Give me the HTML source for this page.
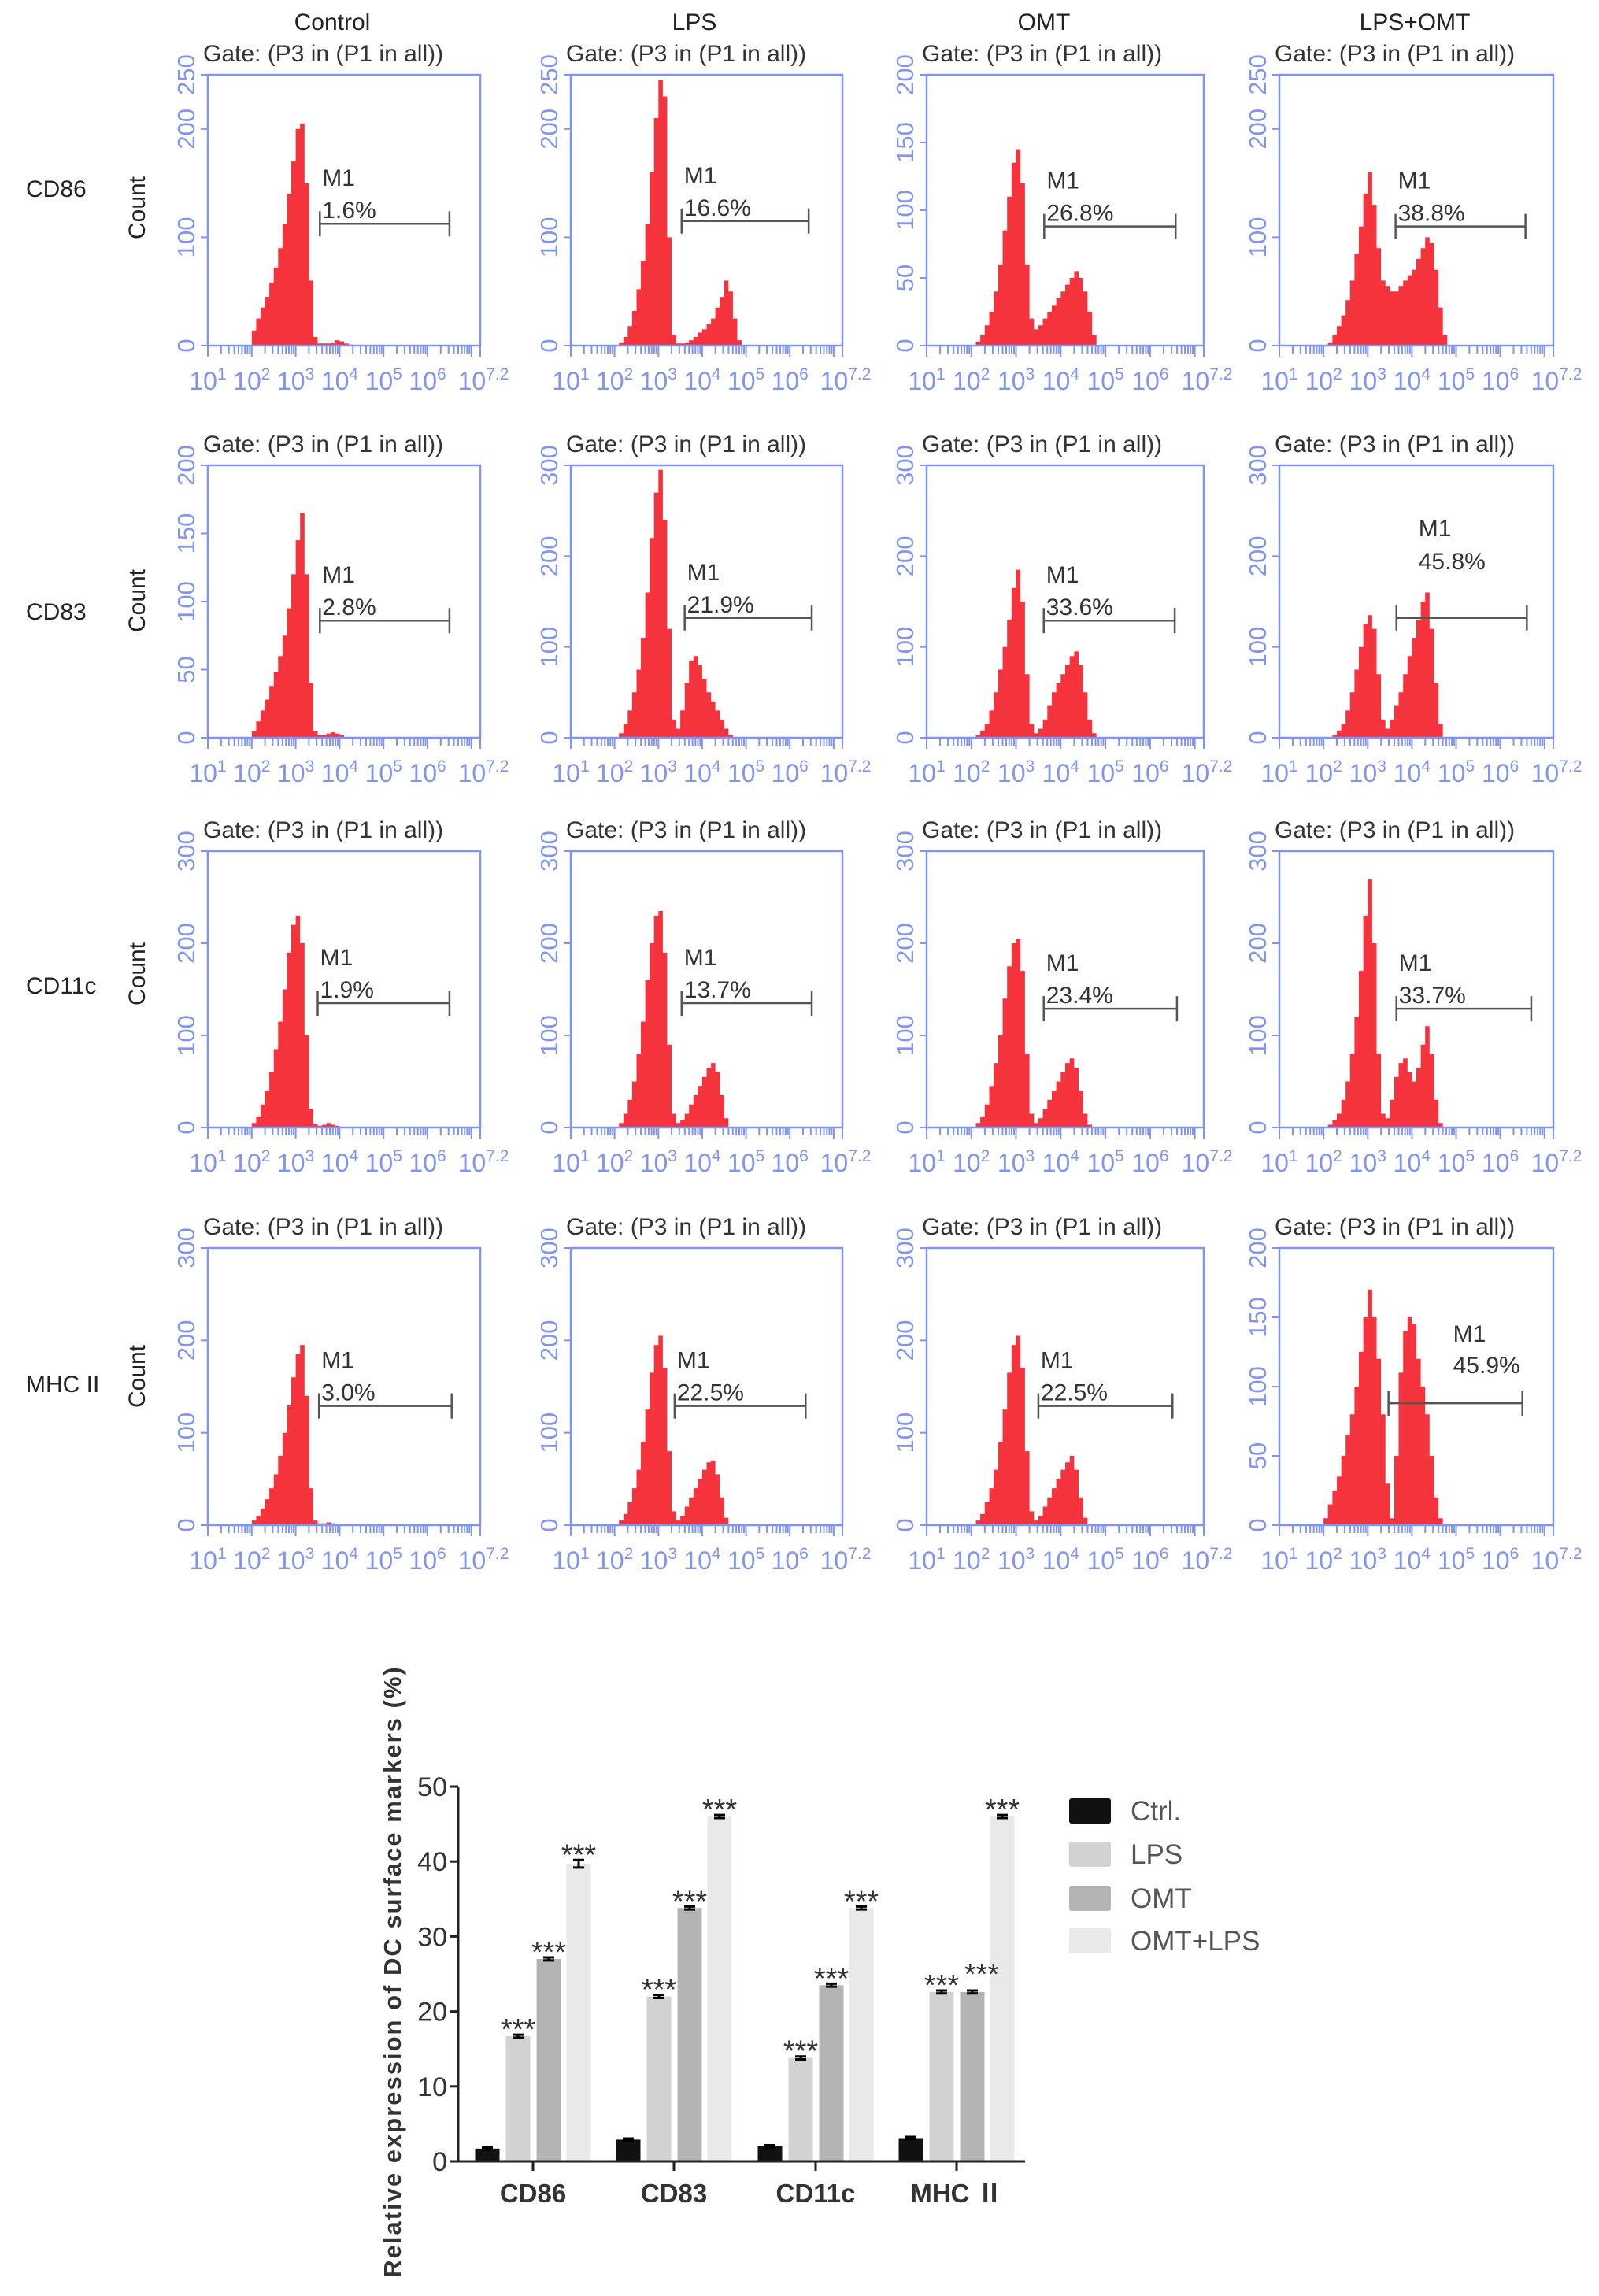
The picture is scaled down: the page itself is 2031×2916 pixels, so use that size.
<!DOCTYPE html>
<html><head><meta charset="utf-8"><style>
html,body{margin:0;padding:0;background:#fff;}
svg{display:block;font-family:"Liberation Sans",Arial,sans-serif;}
</style></head><body>
<svg id="fig" width="2031" height="2916" viewBox="0 0 2031 2916" xmlns="http://www.w3.org/2000/svg"></svg>
<script>
// ===== Histogram data =====
const colTitles = ["Control","LPS","OMT","LPS+OMT"];
const rowTitles = ["CD86","CD83","CD11c","MHC II"];
const yMaxes = [[250,250,200,250],[200,300,300,300],[300,300,300,300],[300,300,300,200]];
const pctLabels = [["1.6%","16.6%","26.8%","38.8%"],["2.8%","21.9%","33.6%","45.8%"],["1.9%","13.7%","23.4%","33.7%"],["3.0%","22.5%","22.5%","45.9%"]];
// counts per bin; bin i covers log10 2.0+0.1*i .. 2.1+0.1*i
const h_r1c1 = [14,25,35,45,58,72,90,112,140,170,200,205,150,60,8,2,2,2,3,5,4,2,1];
const h_r1c2 = [0,3,8,18,32,52,78,112,160,210,245,230,100,10,2,2,3,5,8,12,15,20,25,35,45,60,50,25,5];
const h_r1c3 = [0,3,8,15,25,40,60,85,110,135,145,120,60,20,12,15,20,25,30,35,40,45,50,55,50,40,25,8];
const h_r1c4 = [0,3,10,18,28,42,60,85,110,140,160,130,90,60,55,50,50,55,60,65,70,80,90,100,95,70,35,10];
const h_r2c1 = [5,12,20,28,38,48,60,75,95,120,145,165,120,40,5,2,2,3,4,3,2];
const h_r2c2 = [0,5,15,30,50,75,110,160,220,270,295,240,120,20,10,30,60,85,90,80,65,50,40,30,20,10,3];
const h_r2c3 = [0,3,8,15,30,50,75,100,130,165,185,150,70,15,5,10,20,35,50,60,70,80,90,95,80,50,20,5];
const h_r2c4 = [0,0,3,8,15,30,50,75,100,125,135,120,70,20,10,20,35,50,70,90,110,130,150,160,120,60,15];
const h_r3c1 = [5,12,25,40,60,85,115,150,190,220,230,200,100,20,4,2,3,5,3,2];
const h_r3c2 = [0,5,15,30,50,80,115,160,200,230,235,190,90,15,5,8,15,25,35,45,55,65,70,60,35,10];
const h_r3c3 = [0,5,12,25,45,70,100,140,175,200,205,170,80,15,5,10,20,30,40,50,60,70,75,65,40,15,3];
const h_r3c4 = [0,3,8,15,30,50,80,120,170,230,270,200,80,15,10,30,55,70,75,60,50,65,90,110,80,30,5];
const h_r4c1 = [5,10,18,28,40,55,75,100,130,160,185,195,140,40,5,2,2,3,2];
const h_r4c2 = [0,5,12,25,40,60,90,125,165,195,205,170,80,15,5,10,20,30,40,50,60,68,70,55,30,8];
const h_r4c3 = [0,5,12,25,40,60,90,125,165,195,205,170,80,15,5,10,20,30,40,50,60,68,75,60,30,8];
const h_r4c4 = [5,15,25,35,50,65,80,100,125,150,170,150,120,80,30,5,50,110,140,150,145,120,100,80,50,20,5];
const histData = [[h_r1c1,h_r1c2,h_r1c3,h_r1c4],[h_r2c1,h_r2c2,h_r2c3,h_r2c4],[h_r3c1,h_r3c2,h_r3c3,h_r3c4],[h_r4c1,h_r4c2,h_r4c3,h_r4c4]];
const gateStart = [[3.55,3.53,3.63,3.63],[3.55,3.6,3.62,3.65],[3.5,3.53,3.62,3.65],[3.53,3.37,3.5,3.47]];
const gateEnd = [[6.5,6.43,6.57,6.57],[6.5,6.5,6.55,6.6],[6.5,6.5,6.6,6.7],[6.55,6.36,6.5,6.5]];
const gateFrac = [[0.45,0.46,0.44,0.44],[0.43,0.44,0.43,0.44],[0.45,0.45,0.43,0.43],[0.43,0.43,0.43,0.44]];
const xTickExp = ["1","2","3","4","5","6","7.2"];
const xTickLog = [1,2,3,4,5,6,7.2];

// ===== Bar chart data =====
const barCats = ["CD86","CD83","CD11c","MHC \u2161"];
const seriesNames = ["Ctrl.","LPS","OMT","OMT+LPS"];
const ctrlVals = [1.7,2.9,2.0,3.1];
const lpsVals = [16.7,22.0,13.8,22.6];
const omtVals = [27.0,33.8,23.5,22.6];
const omtLpsVals = [39.7,46.0,33.8,46.0];
const errVals = [[0.15,0.15,0.15,0.15],[0.2,0.2,0.2,0.2],[0.2,0.2,0.2,0.2],[0.5,0.2,0.2,0.2]];
const barTicks = [0,10,20,30,40,50];

const NS="http://www.w3.org/2000/svg";
const svg=document.getElementById('fig');
function el(tag,attrs,parent,text){const e=document.createElementNS(NS,tag);for(const k in attrs)e.setAttribute(k,attrs[k]);if(text!==undefined)e.textContent=text;(parent||svg).appendChild(e);return e;}

const BLUE="#8094f2", RED="#f5333c";
const colLeft=[264,725,1177,1625];
const colRight=[610,1070,1529,1973];
const rowTop=[95,591,1081,1585];
const rowZero=[439,937,1432,1937];
const colTitleX=[422,882,1326,1797];
const rowLabelY=[240,777,1252,1758];
const countY=[264,763,1237,1748];

colTitles.forEach((t,c)=>{
  const e=el('text',{x:colTitleX[c],y:38,'text-anchor':'middle','font-size':30,fill:'#222'},svg,t);
  
  
});
rowTitles.forEach((t,r)=>{
  const e=el('text',{x:33,y:rowLabelY[r]+10,'font-size':30,fill:'#222'},svg,t);
  
  
  const cnt=el('text',{x:0,y:0,'text-anchor':'middle','font-size':30,fill:'#222',transform:`translate(184,${countY[r]}) rotate(-90)`},svg,'Count');
  
  
});

for(let r=0;r<4;r++){for(let c=0;c<4;c++){
  const L=colLeft[c],R=colRight[c],T=rowTop[r],Z=rowZero[r],W=R-L,H=Z-T,ym=yMaxes[r][c];
  const g=el('g',{});
  
  
  const xs=v=>L+(v-1)/6.2*W;
  const ys=v=>Z-v/ym*H;
  const gt=el('text',{x:L-6,y:T-17,'font-size':30,fill:'#333'},g,'Gate: (P3 in (P1 in all))');
  
  
  const d=histData[r][c];
  let p=`M${xs(2.0).toFixed(1)},${Z}`;
  d.forEach((v,i)=>{const x0=xs(2.0+0.1*i),x1=xs(2.1+0.1*i),y=ys(v);p+=`L${x0.toFixed(1)},${y.toFixed(1)}L${x1.toFixed(1)},${y.toFixed(1)}`;});
  p+=`L${xs(2.0+0.1*d.length).toFixed(1)},${Z}Z`;
  const hp=el('path',{d:p,fill:RED},g);
  
  
  const fr=el('rect',{x:L,y:T,width:W,height:H,fill:'none',stroke:BLUE,'stroke-width':2.5},g);
  
  
  let tk='';
  for(let dd=1;dd<=7;dd++){for(let k=1;k<=9;k++){const lv=dd+Math.log10(k);if(lv>7.2)break;const x=xs(lv);tk+=`M${x.toFixed(1)},${Z}L${x.toFixed(1)},${Z+(k===1?14:10)}`;}}
  tk+=`M${xs(7.2)},${Z}L${xs(7.2)},${Z+14}`;
  const tp=el('path',{d:tk,stroke:BLUE,'stroke-width':2,fill:'none'},g);
  
  
  xTickExp.forEach((ex,i)=>{
    const t=el('text',{x:xs(xTickLog[i])+(i===6?4:0),y:Z+56,'text-anchor':'middle','font-size':32,fill:BLUE},g);
    el('tspan',{},t,'10');
    el('tspan',{dy:-13,'font-size':21},t,ex);
    
    
  });
  const step=ym===200?50:100;
  const yt=[];
  for(let v=0;v<=ym;v+=step)yt.push(v);
  if(ym===250)yt.push(250);
  yt.forEach(v=>{
    const y=ys(v);
    const ln=el('line',{x1:L-9,x2:L,y1:y,y2:y,stroke:BLUE,'stroke-width':2},g);
    
    
    const t=el('text',{x:0,y:0,'text-anchor':'middle','font-size':31,fill:BLUE,transform:`translate(${L-17},${y}) rotate(-90)`},g,String(v));
    
    
  });
  const gy=Z-gateFrac[r][c]*H, gx1=xs(gateStart[r][c]), gx2=xs(gateEnd[r][c]);
  const gm=el('path',{d:`M${gx1},${gy-16}L${gx1},${gy+16}M${gx1},${gy}L${gx2},${gy}M${gx2},${gy-16}L${gx2},${gy+16}`,stroke:'#555','stroke-width':2.5,fill:'none'},g);
  
  
  let lx=gx1+3, m1b=gy-48, pb=gy-7;
  if(r===1&&c===3){lx=gx1+28;m1b=gy-104;pb=gy-62;}
  if(r===3&&c===3){lx=gx1+82;m1b=gy-78;pb=gy-38;}
  const m1=el('text',{x:lx,y:m1b,'font-size':30,fill:'#333'},g,'M1');
  
  
  const pc=el('text',{x:lx,y:pb,'font-size':30,fill:'#333'},g,pctLabels[r][c]);
  
  
}}

// ===== Bar chart =====
const bg=el('g',{});


const AX=582, Y0=2745, Y50=2269, AXR=1302;
const yb=v=>Y0-(Y0-Y50)*v/50;
const groupX=[677,856,1036,1215];
const offs=[-58,-19,20,58];
const colors=["#111111","#d2d2d2","#b4b4b4","#e9e9e9"];
const allSeries=[ctrlVals,lpsVals,omtVals,omtLpsVals];
allSeries.forEach((vals,s)=>{
  vals.forEach((v,i)=>{
    const cx=groupX[i]+offs[s];
    const b=el('rect',{x:cx-15.5,y:yb(v),width:31,height:Y0-yb(v),fill:colors[s]},bg);
    
    
    const e=errVals[s][i];
    const eb=el('path',{d:`M${cx-7},${yb(v+e)}L${cx+7},${yb(v+e)}M${cx},${yb(v+e)}L${cx},${yb(v-e)}M${cx-7},${yb(v-e)}L${cx+7},${yb(v-e)}`,stroke:'#000','stroke-width':3,fill:'none'},bg);
    
    
  });
});
allSeries.forEach((vals,s)=>{
  if(s===0)return;
  vals.forEach((v,i)=>{
    const cx=groupX[i]+offs[s], e=errVals[s][i];
    let sx=cx, sy=yb(v+e)-10;
    if(s===2&&i===3){sx=cx+12;sy-=14;}
    const st=el('text',{x:sx,y:sy+16,'text-anchor':'middle','font-size':38,fill:'#333'},bg,'***');
    
    
  });
});
const axes=el('path',{d:`M${AX},${Y50}L${AX},${Y0}L${AXR},${Y0}`,stroke:'#222','stroke-width':3,fill:'none'},bg);


barTicks.forEach(v=>{
  const t=el('line',{x1:AX-10,x2:AX,y1:yb(v),y2:yb(v),stroke:'#222','stroke-width':3},bg);
  
  
  const l=el('text',{x:AX-14,y:yb(v)+12,'text-anchor':'end','font-size':34,fill:'#333'},bg,String(v));
  
  
});
barCats.forEach((c,i)=>{
  const t=el('line',{x1:groupX[i],x2:groupX[i],y1:Y0,y2:Y0+12,stroke:'#222','stroke-width':3},bg);
  
  
  const l=el('text',{x:groupX[i],y:2797,'text-anchor':'middle','font-size':33,'font-weight':'bold',fill:'#333',
    'font-family':'"Liberation Sans","Noto Sans CJK SC",sans-serif'},bg,c);
  
  
});
const yt=el('text',{x:0,y:0,'text-anchor':'middle','font-size':31,'font-weight':'bold',fill:'#333','letter-spacing':'2',transform:'translate(509,2504) rotate(-90)'},bg,'Relative expression of DC surface markers (%)');


const legY=[2300,2355,2411,2465];
seriesNames.forEach((n,s)=>{
  const r=el('rect',{x:1358,y:legY[s]-16,width:53,height:32,rx:3,fill:colors[s]},bg);
  
  
  const t=el('text',{x:1436,y:legY[s]+12,'font-size':35,fill:'#555'},bg,n);
  
  
});
</script>
</body></html>
